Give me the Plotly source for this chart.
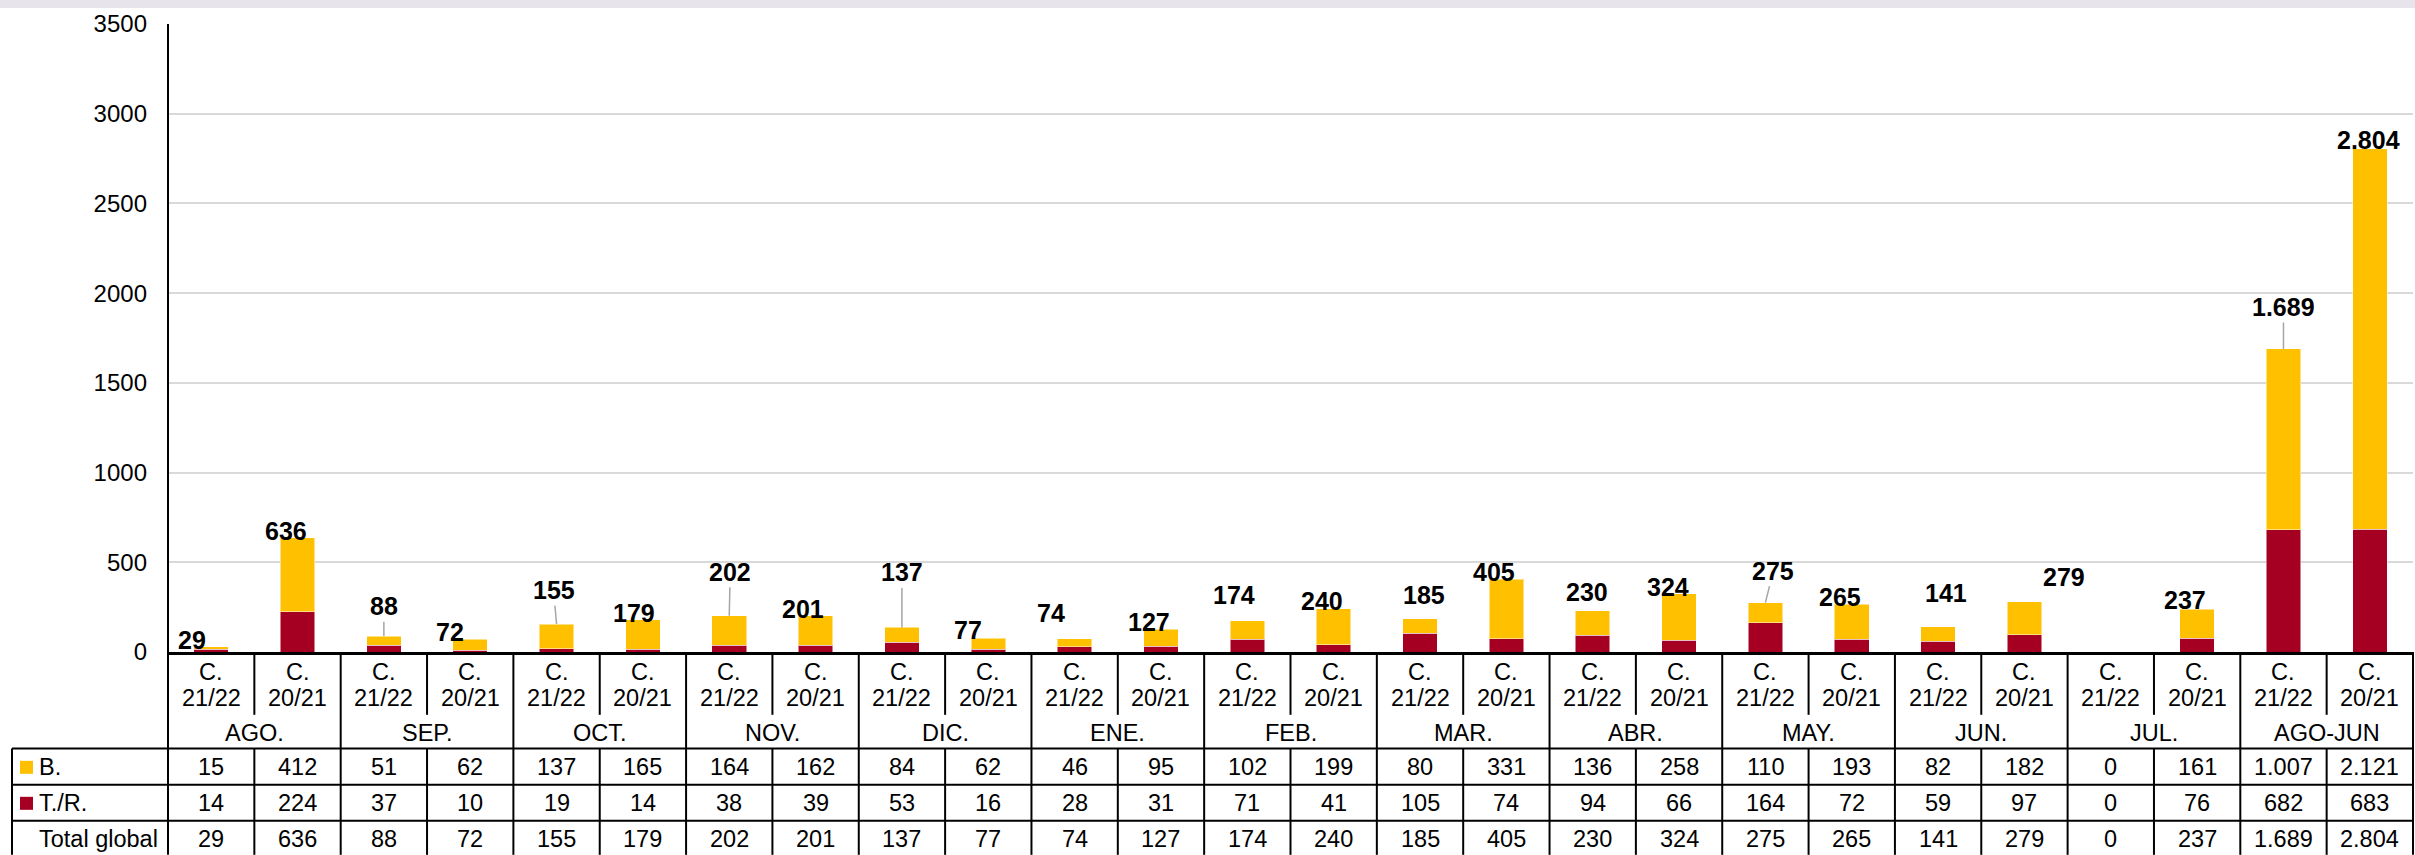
import plotly.graph_objects as go

# 数据
months = ["AGO.", "SEP.", "OCT.", "NOV.", "DIC.", "ENE.", "FEB.", "MAR.",
          "ABR.", "MAY.", "JUN.", "JUL.", "AGO-JUN"]
seasons = ["21/22", "20/21"]
b_vals = [15, 412, 51, 62, 137, 165, 164, 162, 84, 62, 46, 95, 102, 199,
          80, 331, 136, 258, 110, 193, 82, 182, 0, 161, 1007, 2121]
tr_vals = [14, 224, 37, 10, 19, 14, 38, 39, 53, 16, 28, 31, 71, 41,
           105, 74, 94, 66, 164, 72, 59, 97, 0, 76, 682, 683]
totals = [29, 636, 88, 72, 155, 179, 202, 201, 137, 77, 74, 127, 174, 240,
          185, 405, 230, 324, 275, 265, 141, 279, 0, 237, 1689, 2804]
row_names = ["B.", "T./R.", "Total global"]
y_ticks = [0, 500, 1000, 1500, 2000, 2500, 3000, 3500]

YELLOW = "#FFC000"
RED = "#A50021"
FONT = "Liberation Sans, Arial, sans-serif"

# 画布尺寸（像素）
W, H = 2415, 855
L, R, T, BASE = 168, 2413, 24.3, 652.2
PLOT_W = R - L
PLOT_H = BASE - T

n = len(totals)


def fy(p):
    """像素 y -> paper y"""
    return (BASE - p) / PLOT_H


def fx(p):
    """像素 x -> paper x"""
    return (p - L) / PLOT_W


def fmt(v):
    return f"{v:,}".replace(",", ".")


x = list(range(n))

fig = go.Figure()
fig.add_trace(go.Bar(x=x, y=tr_vals, name="T./R.", marker_color=RED,
                     marker_line=dict(color="rgba(255,255,255,0.5)", width=1)))
fig.add_trace(go.Bar(x=x, y=b_vals, name="B.", marker_color=YELLOW,
                     marker_line=dict(color="rgba(255,255,255,0.5)", width=1)))

shapes = []
annotations = []

# 顶部浅色条
shapes.append(dict(type="rect", xref="paper", yref="paper",
                   x0=fx(0), x1=fx(W), y0=fy(0), y1=fy(8.3),
                   fillcolor="#E8E4EC", line_width=0, layer="below"))


def vline(xp, p0, p1):
    shapes.append(dict(type="line", xref="paper", yref="paper",
                       x0=xp, x1=xp, y0=fy(p0), y1=fy(p1),
                       line=dict(color="black", width=2)))


def hline(p, xp0, xp1):
    shapes.append(dict(type="line", xref="paper", yref="paper",
                       x0=xp0, x1=xp1, y0=fy(p), y1=fy(p),
                       line=dict(color="black", width=2)))


CAT_BOTTOM, MONTH_BOTTOM, ROW_B, ROW_TR = 715, 748.7, 785, 821
TABLE_LEFT = 12

# y 轴线一直延伸到表格底部
vline(0, T, H)
for k in range(1, n + 1):
    if k % 2 == 1:
        vline(k / n, BASE, CAT_BOTTOM)
        vline(k / n, MONTH_BOTTOM, H)
    else:
        vline(k / n, BASE, H)
for p in (MONTH_BOTTOM, ROW_B, ROW_TR):
    hline(p, fx(TABLE_LEFT), 1)
vline(fx(TABLE_LEFT), MONTH_BOTTOM, H)


def text(xv, p, s, xref="paper", xanchor="center", size=23.5):
    annotations.append(dict(
        x=xv, y=fy(p), xref=xref, yref="paper", text=s, showarrow=False,
        xanchor=xanchor, yanchor="middle",
        font=dict(family=FONT, size=size, color="black")))


# 表格：类别、月份、数值
rows = [b_vals, tr_vals, totals]
row_y = [767, 803, 839]
for i in range(n):
    xc = (i + 0.5) / n
    text(xc, 671.7, "C.")
    text(xc, 698, seasons[i % 2])
    for vals, p in zip(rows, row_y):
        text(xc, p, fmt(vals[i]))
for j, m in enumerate(months):
    text((2 * j + 1) / n, 733, m)

# 行标题与图例色块
for name, p in zip(row_names, row_y):
    text(fx(37), p, name, xanchor="left")
for color, p in zip([YELLOW, RED], row_y[:2]):
    shapes.append(dict(type="rect", xref="paper", yref="paper",
                       x0=fx(20), x1=fx(33), y0=fy(p - 6), y1=fy(p + 7),
                       fillcolor=color, line_width=0))

# 柱顶总计标签（dx, dy 像素偏移，是否有引线）
label_pos = [(-19, -7, 0), (-12, -7, 0), (0, -30, 1), (-20, -7, 0),
             (-3, -34, 1), (-9, -7, 0), (1, -44, 1), (-13, -7, 0),
             (0, -55, 1), (-20, -8, 0), (-24, -26, 0), (-12, -7, 0),
             (-13, -26, 0), (-12, -8, 0), (4, -24, 0), (-12, -7, 0),
             (-6, -19, 0), (-11, -7, 0), (8, -32, 1), (-12, -7, 0),
             (8, -34, 0), (40, -25, 0), (0, 0, 0), (-12, -9, 0),
             (0, -42, 1), (-1, -9, 0)]
for i, (v, (dx, dy, leader)) in enumerate(zip(totals, label_pos)):
    if v == 0:
        continue
    font = dict(family=FONT, size=25, color="black", weight="bold")
    if leader:
        annotations.append(dict(x=i, y=v, xref="x", yref="y", text=fmt(v),
                                showarrow=True, arrowhead=0, arrowwidth=1.5,
                                arrowcolor="#A6A6A6", ax=dx, ay=dy, font=font))
    else:
        annotations.append(dict(x=i, y=v, xref="x", yref="y", text=fmt(v),
                                showarrow=False, xshift=dx, yshift=-dy,
                                yanchor="middle", font=font))

fig.update_layout(
    width=W, height=H,
    margin=dict(l=L, r=W - R, t=T, b=H - BASE, pad=0),
    barmode="stack", bargap=0.6,
    plot_bgcolor="white", paper_bgcolor="white",
    showlegend=False,
    shapes=shapes, annotations=annotations,
    font=dict(family=FONT, color="black"),
)
fig.update_xaxes(range=[-0.5, n - 0.5], showticklabels=False, showgrid=False,
                 zeroline=False, showline=True, linecolor="black", linewidth=2.5,
                 automargin=False)
fig.update_yaxes(range=[0, 3500], tickvals=y_ticks, showgrid=True,
                 gridcolor="#D9D9D9", gridwidth=1.5, zeroline=False,
                 showline=False, ticks="", ticklabelstandoff=20,
                 automargin=False,
                 tickfont=dict(family=FONT, size=24, color="black"))

# 去掉页面默认边距，使图正好占满窗口
fig.write_html("out.html",
               config={"displayModeBar": False},
               post_script="document.body.style.margin='0';"
                           "document.body.style.overflow='hidden';")
